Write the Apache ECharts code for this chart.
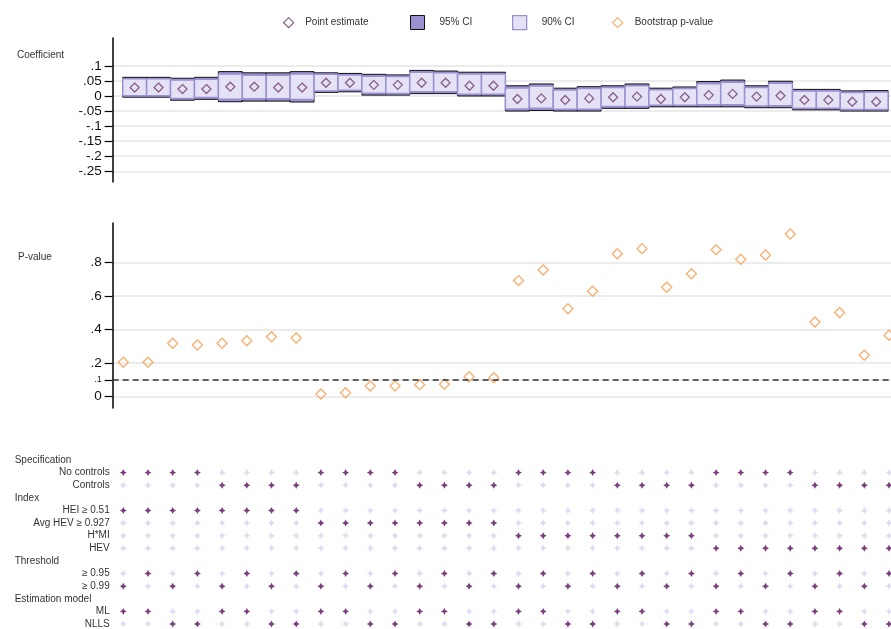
<!DOCTYPE html>
<html>
<head>
<meta charset="utf-8">
<script src="https://cdn.jsdelivr.net/npm/echarts@6/dist/echarts.min.js"></script>
<style>
  html, body { margin: 0; padding: 0; background: #fff; }
  #chart { width: 891px; height: 629px; }
</style>
</head>
<body>
<div id="chart"></div>
<script>
// Specification index (1..32)
const specs = [1,2,3,4,5,6,7,8,9,10,11,12,13,14,15,16,17,18,19,20,21,22,23,24,25,26,27,28,29,30,31,32];

// Coefficient point estimates
const pointEstimate = [0.028,0.028,0.023,0.023,0.031,0.031,0.028,0.028,0.044,0.044,0.037,0.037,0.044,0.044,0.034,0.034,
                       -0.010,-0.008,-0.013,-0.008,-0.004,-0.002,-0.010,-0.004,0.003,0.007,-0.002,0.001,-0.013,-0.013,-0.019,-0.019];
// 95% confidence interval bounds
const ci95Low  = [-0.004,-0.004,-0.014,-0.011,-0.019,-0.017,-0.017,-0.020,0.012,0.014,0.003,0.003,0.008,0.008,0.000,0.000,
                  -0.050,-0.048,-0.050,-0.050,-0.041,-0.041,-0.036,-0.036,-0.036,-0.036,-0.039,-0.039,-0.046,-0.046,-0.050,-0.050];
const ci95High = [0.062,0.062,0.059,0.062,0.081,0.077,0.077,0.081,0.077,0.075,0.072,0.070,0.085,0.083,0.079,0.079,
                  0.034,0.040,0.026,0.031,0.034,0.040,0.026,0.030,0.048,0.053,0.034,0.049,0.022,0.022,0.017,0.018];
// 90% confidence interval bounds
const ci90Low  = [0.001,0.001,-0.008,-0.005,-0.011,-0.009,-0.009,-0.012,0.017,0.019,0.009,0.008,0.014,0.014,0.006,0.006,
                  -0.043,-0.041,-0.044,-0.044,-0.035,-0.035,-0.031,-0.031,-0.029,-0.029,-0.033,-0.032,-0.041,-0.041,-0.045,-0.045];
const ci90High = [0.057,0.057,0.053,0.056,0.073,0.069,0.069,0.073,0.072,0.070,0.066,0.065,0.079,0.077,0.073,0.073,
                  0.027,0.033,0.020,0.025,0.028,0.034,0.021,0.025,0.041,0.046,0.028,0.042,0.017,0.017,0.012,0.013];

// Bootstrap p-values
const pValue = [0.205,0.205,0.319,0.309,0.319,0.334,0.358,0.350,0.016,0.024,0.064,0.064,0.072,0.074,0.119,0.113,
                0.693,0.756,0.525,0.629,0.854,0.884,0.653,0.734,0.878,0.820,0.846,0.971,0.446,0.502,0.247,0.367];

// Axis ticks
const coefTicks = [-0.25,-0.2,-0.15,-0.1,-0.05,0,0.05,0.1];
const pTicks = [0,0.1,0.2,0.4,0.6,0.8];
const pThreshold = 0.1;

// Specification indicator rows (1 = selected)
const rowLabels = ['Specification','No controls','Controls','Index','HEI ≥ 0.51','Avg HEV ≥ 0.927','H*MI','HEV',
                   'Threshold','≥ 0.95','≥ 0.99','Estimation model','ML','NLLS'];
const headerRows = ['Specification','Index','Threshold','Estimation model'];
const noControls = [1,1,1,1,0,0,0,0,1,1,1,1,0,0,0,0,1,1,1,1,0,0,0,0,1,1,1,1,0,0,0,0];
const controls   = [0,0,0,0,1,1,1,1,0,0,0,0,1,1,1,1,0,0,0,0,1,1,1,1,0,0,0,0,1,1,1,1];
const indexHei   = [1,1,1,1,1,1,1,1,0,0,0,0,0,0,0,0,0,0,0,0,0,0,0,0,0,0,0,0,0,0,0,0];
const indexAvgHev= [0,0,0,0,0,0,0,0,1,1,1,1,1,1,1,1,0,0,0,0,0,0,0,0,0,0,0,0,0,0,0,0];
const indexHmi   = [0,0,0,0,0,0,0,0,0,0,0,0,0,0,0,0,1,1,1,1,1,1,1,1,0,0,0,0,0,0,0,0];
const indexHev   = [0,0,0,0,0,0,0,0,0,0,0,0,0,0,0,0,0,0,0,0,0,0,0,0,1,1,1,1,1,1,1,1];
const thr095     = [0,1,0,1,0,1,0,1,0,1,0,1,0,1,0,1,0,1,0,1,0,1,0,1,0,1,0,1,0,1,0,1];
const thr099     = [1,0,1,0,1,0,1,0,1,0,1,0,1,0,1,0,1,0,1,0,1,0,1,0,1,0,1,0,1,0,1,0];
const modelMl    = [1,1,0,0,1,1,0,0,1,1,0,0,1,1,0,0,1,1,0,0,1,1,0,0,1,1,0,0,1,1,0,0];
const modelNlls  = [0,0,1,1,0,0,1,1,0,0,1,1,0,0,1,1,0,0,1,1,0,0,1,1,0,0,1,1,0,0,1,1];

const indicatorRows = [
  ['No controls', noControls], ['Controls', controls],
  ['HEI ≥ 0.51', indexHei], ['Avg HEV ≥ 0.927', indexAvgHev], ['H*MI', indexHmi], ['HEV', indexHev],
  ['≥ 0.95', thr095], ['≥ 0.99', thr099],
  ['ML', modelMl], ['NLLS', modelNlls]
];

// Colours
const C_PURPLE = '#9a90d2';
const C_LAVENDER = '#e5e2f5';
const C_POINT = '#6e3d72';
const C_ORANGE = '#f59d50';
const C_DOT_ON = '#5a0f5e';
const C_DOT_OFF = '#d6d2ef';
const C_GRID = '#e6e6e6';
const C_TEXT = '#333';

const ci95Data = specs.map((s, i) => [s, ci95Low[i], ci95High[i]]);
const ci90Data = specs.map((s, i) => [s, ci90Low[i], ci90High[i]]);
const pointData = specs.map((s, i) => [s, pointEstimate[i]]);
const pData = specs.map((s, i) => [s, pValue[i]]);

const dotsOn = [], dotsOff = [];
indicatorRows.forEach(([label, flags]) => {
  flags.forEach((f, i) => (f ? dotsOn : dotsOff).push([specs[i], label]));
});

// Draws one interval as a box spanning the full width of its specification slot
function boxRenderer(fill, stroke, width) {
  return function (params, api) {
    const x = api.value(0);
    const p0 = api.coord([x - 0.5, api.value(2)]);
    const p1 = api.coord([x + 0.5, api.value(1)]);
    return {
      type: 'rect',
      shape: { x: p0[0], y: p0[1], width: p1[0] - p0[0], height: p1[1] - p0[1] },
      style: { fill: fill, stroke: stroke, lineWidth: width }
    };
  };
}

const fmtDec = v => v === 0 ? '0' : String(v).replace('0.', '.');
const starPath = 'path://M0,-10 L3.5,-3.5 L10,0 L3.5,3.5 L0,10 L-3.5,3.5 L-10,0 L-3.5,-3.5 Z';
const diamondPath = 'path://M5,0 L10,5 L5,10 L0,5 Z';
const squarePath = 'path://M0,0 L10,0 L10,10 L0,10 Z';
const legendText = { fontSize: 10, color: C_TEXT, fontFamily: 'Liberation Sans, Arial, sans-serif' };

const chart = echarts.init(document.getElementById('chart'), null, { renderer: 'canvas' });

chart.setOption({
  animation: false,
  textStyle: { fontFamily: 'Liberation Sans, Arial, sans-serif' },
  title: [
    { text: 'Coefficient', left: 12, top: 45, textStyle: { fontSize: 10, fontWeight: 'normal', color: C_TEXT } },
    { text: 'P-value', left: 13, top: 247, textStyle: { fontSize: 10, fontWeight: 'normal', color: C_TEXT } }
  ],
  legend: [
    { data: [{ name: 'Point estimate', icon: diamondPath, itemStyle: { color: '#fff', borderColor: C_POINT, borderWidth: 1.3 } }],
      left: 278, top: 12, itemWidth: 23, itemHeight: 10, symbolKeepAspect: true, textStyle: legendText, selectedMode: false },
    { data: [{ name: '95% CI', icon: squarePath, itemStyle: { color: C_PURPLE, borderColor: '#111', borderWidth: 1 } }],
      left: 405, top: 10, itemWidth: 34, itemHeight: 14, symbolKeepAspect: true, textStyle: legendText, selectedMode: false },
    { data: [{ name: '90% CI', icon: squarePath, itemStyle: { color: C_LAVENDER, borderColor: C_PURPLE, borderWidth: 1.3 } }],
      left: 507, top: 10, itemWidth: 34, itemHeight: 14, symbolKeepAspect: true, textStyle: legendText, selectedMode: false },
    { data: [{ name: 'Bootstrap p-value', icon: diamondPath, itemStyle: { color: '#fff', borderColor: C_ORANGE, borderWidth: 1.3 } }],
      left: 607, top: 12, itemWidth: 24, itemHeight: 10, symbolKeepAspect: true, textStyle: legendText, selectedMode: false }
  ],
  grid: [
    { left: 112.7, right: 0, top: 38, height: 144 },
    { left: 112.7, right: 0, top: 223, height: 185 },
    { left: 112.7, right: 0, top: 460, bottom: 5 }
  ],
  xAxis: [
    { gridIndex: 0, type: 'value', min: 0.082, max: 32.62, show: false },
    { gridIndex: 1, type: 'value', min: 0.571, max: 32.08, show: false },
    { gridIndex: 2, type: 'value', min: 0.571, max: 32.08, show: false }
  ],
  yAxis: [
    {
      gridIndex: 0, type: 'value', min: -0.2857, max: 0.1927,
      axisLine: { show: true, lineStyle: { color: '#000', width: 1.5 } },
      axisTick: { show: true, length: 8, customValues: coefTicks, lineStyle: { color: '#000', width: 1.2 } },
      axisLabel: { customValues: coefTicks, formatter: fmtDec, fontSize: 13.5, color: '#111', margin: 11 },
      splitLine: { show: true, lineStyle: { color: C_GRID, width: 1.5 } }
    },
    {
      gridIndex: 1, type: 'value', min: -0.0675, max: 1.037,
      axisLine: { show: true, lineStyle: { color: '#000', width: 1.5 } },
      axisTick: { show: true, length: 8, customValues: pTicks, lineStyle: { color: '#000', width: 1.2 } },
      axisLabel: {
        customValues: pTicks, margin: 11, color: '#111', fontSize: 13.5,
        formatter: v => v === pThreshold ? '{s|.1}' : fmtDec(v),
        rich: { s: { fontSize: 9, color: '#222' } }
      },
      splitLine: { show: true, lineStyle: { color: C_GRID, width: 1.5 } }
    },
    {
      gridIndex: 2, type: 'category', data: rowLabels, inverse: true, boundaryGap: false,
      axisLine: { show: false }, axisTick: { show: false }, splitLine: { show: false },
      axisLabel: {
        fontSize: 10, color: C_TEXT, margin: 3, interval: 0,
        formatter: v => headerRows.includes(v) ? '{h|' + v + '}' : v,
        rich: { h: { width: 95, align: 'left', fontSize: 10, color: C_TEXT } }
      }
    }
  ],
  series: [
    {
      name: '95% CI', type: 'custom', xAxisIndex: 0, yAxisIndex: 0,
      data: ci95Data, encode: { x: 0, y: [1, 2] },
      renderItem: boxRenderer(C_PURPLE, '#111', 1),
      itemStyle: { color: C_PURPLE }
    },
    {
      name: '90% CI', type: 'custom', xAxisIndex: 0, yAxisIndex: 0,
      data: ci90Data, encode: { x: 0, y: [1, 2] },
      renderItem: boxRenderer(C_LAVENDER, C_PURPLE, 1.5),
      itemStyle: { color: C_LAVENDER }
    },
    {
      name: 'Point estimate', type: 'scatter', xAxisIndex: 0, yAxisIndex: 0,
      data: pointData, symbol: 'diamond', symbolSize: 9, z: 5,
      itemStyle: { color: 'rgba(0,0,0,0)', borderColor: C_POINT, borderWidth: 1.3 }
    },
    {
      name: 'Bootstrap p-value', type: 'scatter', xAxisIndex: 1, yAxisIndex: 1,
      data: pData, symbol: 'diamond', symbolSize: 10,
      itemStyle: { color: 'rgba(255,255,255,0)', borderColor: C_ORANGE, borderWidth: 1.4 },
      markLine: {
        silent: true, symbol: 'none', label: { show: false },
        lineStyle: { type: [6, 4], color: '#333', width: 1.5 },
        data: [{ yAxis: pThreshold }]
      }
    },
    {
      name: 'Not selected', type: 'scatter', xAxisIndex: 2, yAxisIndex: 2,
      data: dotsOff, symbol: starPath, symbolSize: 7,
      itemStyle: { color: C_DOT_OFF }
    },
    {
      name: 'Selected', type: 'scatter', xAxisIndex: 2, yAxisIndex: 2,
      data: dotsOn, symbol: starPath, symbolSize: 7,
      itemStyle: { color: C_DOT_ON }
    }
  ]
});
</script>
</body>
</html>
